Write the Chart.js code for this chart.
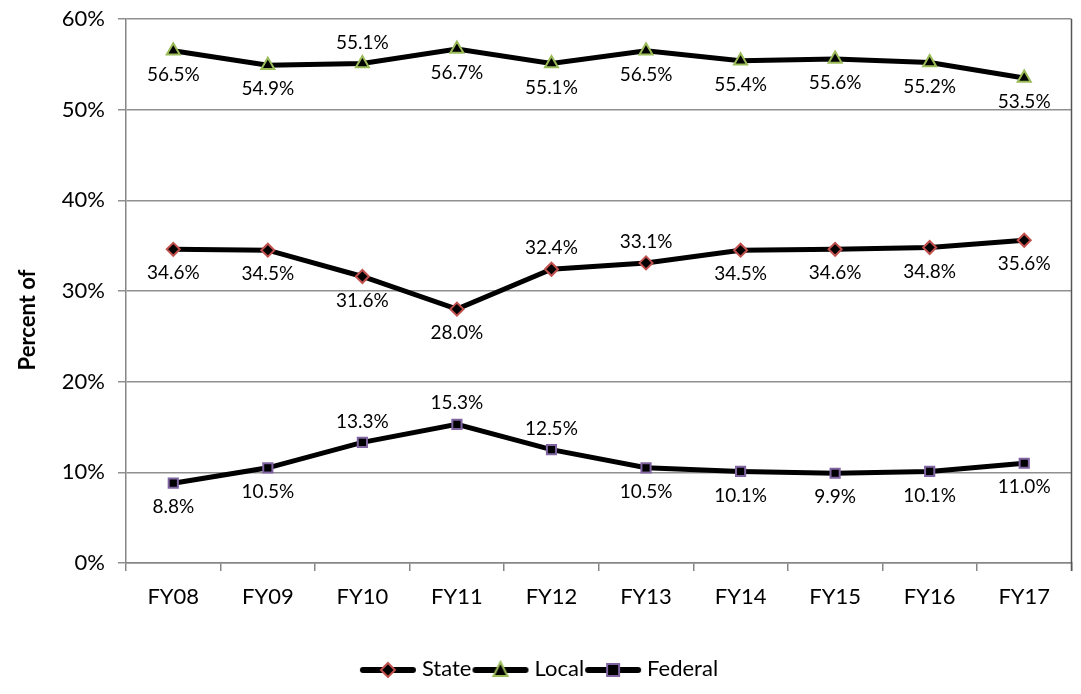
<!DOCTYPE html>
<html>
<head>
<meta charset="utf-8">
<script src="https://cdn.jsdelivr.net/npm/chart.js@4/dist/chart.umd.min.js"></script>
<style>
  html, body { margin: 0; padding: 0; background: #fff; }
  #wrap { width: 1081px; height: 694px; }
</style>
</head>
<body>
<div id="wrap"><canvas id="chart" width="1081" height="694"></canvas></div>
<script>
const years = ['FY08', 'FY09', 'FY10', 'FY11', 'FY12', 'FY13', 'FY14', 'FY15', 'FY16', 'FY17'];
const stateVals = [34.6, 34.5, 31.6, 28.0, 32.4, 33.1, 34.5, 34.6, 34.8, 35.6];
const localVals = [56.5, 54.9, 55.1, 56.7, 55.1, 56.5, 55.4, 55.6, 55.2, 53.5];
const federalVals = [8.8, 10.5, 13.3, 15.3, 12.5, 10.5, 10.1, 9.9, 10.1, 11.0];
// which labels sit above the point (rest go below)
const stateAbove = [4, 5];
const localAbove = [2];
const federalAbove = [2, 3, 4];

const FONT = 'Lato, "Liberation Sans", sans-serif';

// little line+marker picture for the legend
function legendIcon(style, border) {
    const c = document.createElement('canvas');
    c.width = 58; c.height = 18;
    const g = c.getContext('2d');
    g.strokeStyle = '#000'; g.lineWidth = 6; g.lineCap = 'round';
    g.beginPath(); g.moveTo(4, 10); g.lineTo(54, 10); g.stroke();
    g.fillStyle = '#000'; g.strokeStyle = border; g.lineWidth = 2;
    g.beginPath();
    if (style === 'rectRot') { g.moveTo(29, 3); g.lineTo(36, 10); g.lineTo(29, 17); g.lineTo(22, 10); g.closePath(); }
    else if (style === 'triangle') { g.moveTo(29, 2); g.lineTo(36, 16); g.lineTo(22, 16); g.closePath(); }
    else { g.rect(23, 4, 12, 12); }
    g.fill(); g.stroke();
    return c;
}

// data labels, y title and right border of the plot
const labelPlugin = {
    id: 'pointLabels',
    afterDatasetsDraw(chart) {
        const ctx = chart.ctx;
        const a = chart.chartArea;
        ctx.save();
        ctx.strokeStyle = '#555';
        ctx.lineWidth = 1.5;
        ctx.beginPath(); ctx.moveTo(a.right, a.top); ctx.lineTo(a.right, a.bottom + 8); ctx.stroke();

        ctx.font = '19px ' + FONT;
        ctx.fillStyle = '#000';
        ctx.textAlign = 'center';
        ctx.textBaseline = 'middle';
        chart.data.datasets.forEach((ds, i) => {
            chart.getDatasetMeta(i).data.forEach((pt, j) => {
                const up = ds.above.includes(j);
                ctx.fillText(ds.data[j].toFixed(1) + '%', pt.x, up ? pt.y - 21 : pt.y + 24);
            });
        });

        ctx.translate(28, 320);
        ctx.rotate(-Math.PI / 2);
        ctx.font = 'bold 22px ' + FONT;
        ctx.fillText('Percent of', 0, 0);
        ctx.restore();
    }
};

const series = [
    { label: 'State', data: stateVals, above: stateAbove, style: 'rectRot', border: '#c0504d', r: 6.5 },
    { label: 'Local', data: localVals, above: localAbove, style: 'triangle', border: '#9bbb59', r: 7.5 },
    { label: 'Federal', data: federalVals, above: federalAbove, style: 'rect', border: '#8064a2', r: 6.5 },
];

new Chart(document.getElementById('chart'), {
    type: 'line',
    data: {
        labels: years,
        datasets: series.map(s => ({
            label: s.label,
            data: s.data,
            above: s.above,
            borderColor: '#000',
            borderWidth: 5,
            backgroundColor: '#000',
            pointStyle: s.style,
            pointRadius: s.r,
            pointBackgroundColor: '#000',
            pointBorderColor: s.border,
            pointBorderWidth: 2,
            tension: 0,
            icon: legendIcon(s.style, s.border)
        }))
    },
    options: {
        responsive: false,
        animation: false,
        layout: { padding: { top: 19, right: 2, left: 4, bottom: 4 } },
        plugins: {
            tooltip: { enabled: false },
            legend: {
                position: 'bottom',
                labels: {
                    usePointStyle: true,
                    pointStyleWidth: 46,
                    color: '#000',
                    padding: 6,
                    font: { family: FONT, size: 22 },
                    generateLabels(chart) {
                        return chart.data.datasets.map((d, i) => ({
                            text: d.label,
                            pointStyle: d.icon,
                            datasetIndex: i,
                            fillStyle: '#000',
                            strokeStyle: '#000',
                            lineWidth: 0,
                            fontColor: '#000'
                        }));
                    }
                }
            }
        },
        scales: {
            x: {
                offset: true,
                afterFit: s => { s.height = 89; },
                grid: { display: true, drawOnChartArea: false, offset: true, tickLength: 8, color: '#868686', lineWidth: 1.5 },
                border: { color: '#868686', width: 1.5 },
                ticks: { color: '#000', font: { family: FONT, size: 22 }, padding: 13 }
            },
            y: {
                min: 0,
                max: 60,
                afterFit: s => { s.width = 122; s.paddingTop = 0; s.paddingBottom = 0; },
                grid: { color: '#909090', lineWidth: 1.5, tickLength: 8 },
                border: { color: '#868686', width: 1.5 },
                ticks: { stepSize: 10, color: '#000', padding: 13, font: { family: FONT, size: 22 }, callback: v => v + '%' }
            }
        }
    },
    plugins: [labelPlugin]
});
</script>
</body>
</html>
